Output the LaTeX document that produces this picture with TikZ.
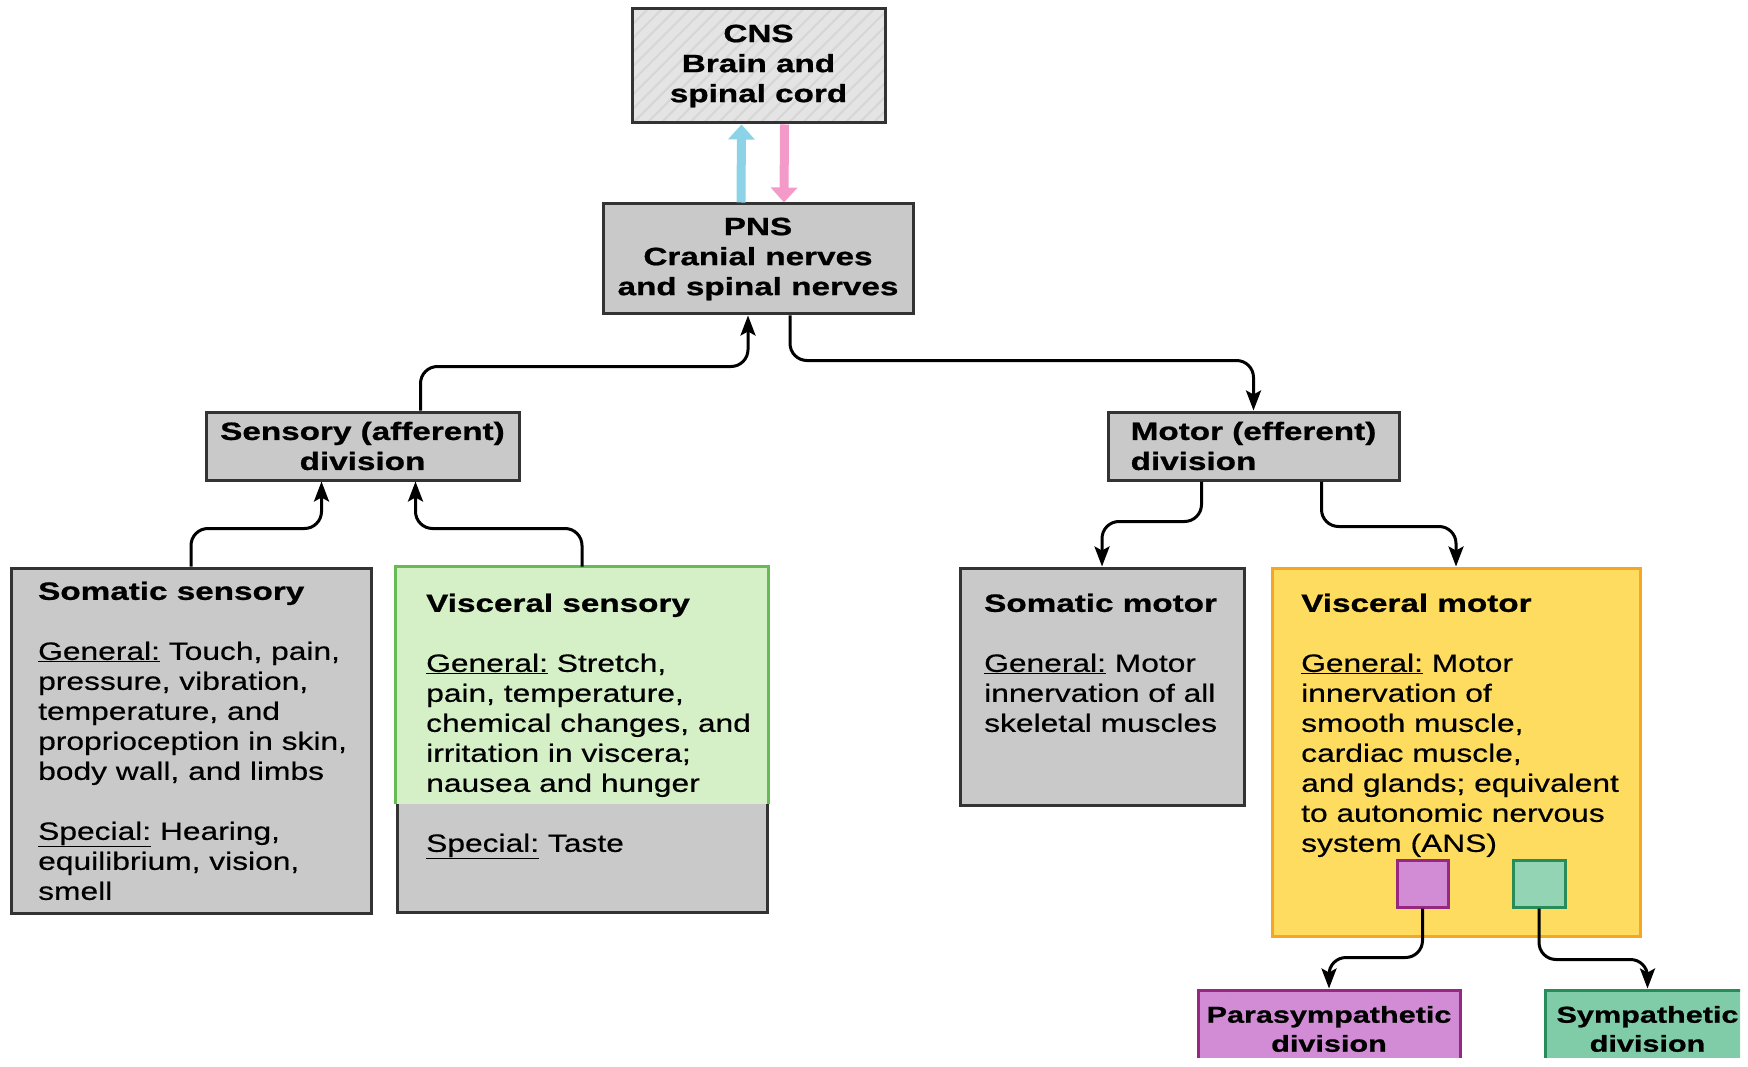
\documentclass[tikz,border=0pt]{standalone}
\usepackage{fontspec}
\setmainfont[FakeStretch=1.27, FakeBold=0.5, BoldFeatures={FakeStretch=1.33, FakeBold=0.9}]{Liberation Sans}
\usepackage{tikz}
\usetikzlibrary{positioning}
\usetikzlibrary{arrows.meta, patterns.meta}

\definecolor{boxgray}{RGB}{201,201,201}
\definecolor{boxline}{RGB}{51,51,51}
\definecolor{cnsgray}{RGB}{228,228,228}
\definecolor{cnshatch}{RGB}{214,214,214}
\definecolor{vsgreen}{RGB}{213,239,199}
\definecolor{vsline}{RGB}{102,187,85}
\definecolor{vmyellow}{RGB}{253,220,95}
\definecolor{vmline}{RGB}{245,166,35}
\definecolor{parafill}{RGB}{210,140,214}
\definecolor{paraline}{RGB}{150,40,130}
\definecolor{symfill}{RGB}{128,204,168}
\definecolor{symline}{RGB}{40,140,90}
\definecolor{afferent}{RGB}{141,211,232}
\definecolor{efferent}{RGB}{244,154,201}

\newcommand{\bodysize}{\fontsize{25}{30}\selectfont}
\newcommand{\anssize}{\fontsize{23}{29}\selectfont}

\begin{document}
\begin{tikzpicture}[x=1pt, y=-1pt,
		box/.style={draw=boxline, line width=3pt, fill=boxgray, inner sep=0pt},
		titlebox/.style={box, align=center, font=\bodysize\bfseries},
		bodytext/.style={anchor=north west, align=left, inner sep=0pt, font=\bodysize},
		conn/.style={draw=black, line width=3pt, rounded corners=17pt,
			-{Stealth[length=20pt, width=15pt, inset=4pt]}},
		upflow/.style={draw=afferent, line width=9pt, -{Triangle[length=15pt, width=26pt]}},
		downflow/.style={draw=efferent, line width=9pt, -{Triangle[length=15pt, width=26pt]}}
		]
		
		\useasboundingbox (0,0) rectangle (1748,1067);
		\clip (0,0) rectangle (1740,1057);
		
		% top
		\node[titlebox, fill=cnsgray, minimum width=253pt, minimum height=114pt,
			postaction={pattern={Lines[angle=45, distance=10pt, line width=2pt]}, pattern color=cnshatch},
			postaction={draw=boxline, line width=3pt}]
			(cns) at (758.5,66) {CNS\\Brain and\\spinal cord};
		\node[titlebox, minimum width=310pt, minimum height=110pt] (pns) at (758,259)
			{PNS\\Cranial nerves\\and spinal nerves};
		
		\draw[upflow] ([xshift=-17pt]pns.north) -- ([xshift=-17pt]cns.south);
		\draw[downflow] ([xshift=26pt]cns.south) -- ([xshift=26pt]pns.north);
		
		% divisions
		\node[titlebox, minimum width=313pt, minimum height=68pt] (sens) at (362.5,446)
			{Sensory (afferent)\\division};
		\node[titlebox, align=left, minimum width=291pt, minimum height=68pt] (motor) at (1253.5,446)
			{Motor (efferent)\\division};
		
		%sensory side
		\node[box, minimum width=360pt, minimum height=345pt] (somsens) at (191,740.5) {};
		\node[box, minimum width=370pt, minimum height=344pt] (vissens) at (582,740) {};
		\fill[vsgreen] (vissens.north west) rectangle ([yshift=110pt]vissens.south east);
		\draw[vsline, line width=3pt] ([yshift=110pt]vissens.south west) -- (vissens.north west)
			-- (vissens.north east) -- ([yshift=110pt]vissens.south east);
		
		\node[bodytext] (somsenstxt) at (38,581.5) {\textbf{Somatic sensory}\\[30pt]
			\underline{General:} Touch, pain,\\
			pressure, vibration,\\
			temperature, and\\
			proprioception in skin,\\
			body wall, and limbs\\[30pt]
			\underline{Special:} Hearing,\\
			equilibrium, vision,\\
			smell};
		\node[bodytext] (vissenstxt) at (426,593.5) {\textbf{Visceral sensory}\\[30pt]
			\underline{General:} Stretch,\\
			pain, temperature,\\
			chemical changes, and\\
			irritation in viscera;\\
			nausea and hunger\\[30pt]
			\underline{Special:} Taste};
		
		%motor side
		\node[box, minimum width=284pt, minimum height=237pt] (sommot) at (1102,686.5) {};
		\node[box, draw=vmline, fill=vmyellow, minimum width=368pt, minimum height=368pt] (vismot) at (1456,752) {};
		
		\node[bodytext] (sommottxt) at (984,593.5) {\textbf{Somatic motor}\\[30pt]
			\underline{General:} Motor\\
			innervation of all\\
			skeletal muscles};
		\node[bodytext] (vismottxt) at (1301,593.5) {\textbf{Visceral motor}\\[30pt]
			\underline{General:} Motor\\
			innervation of\\
			smooth muscle,\\
			cardiac muscle,\\
			and glands; equivalent\\
			to autonomic nervous\\
			system (ANS)};
		
		\node[box, draw=paraline, fill=parafill, minimum width=51pt, minimum height=47pt] (parasq) at (1422.5,883.5) {};
		\node[box, draw=symline, fill=symfill!85!white, minimum width=52pt, minimum height=47pt] (symsq) at (1539,883.5) {};
		
		% ANS divisions
		\node[titlebox, font=\anssize\bfseries, draw=paraline, fill=parafill, minimum width=262pt, minimum height=78pt] (para) at (1329,1029)
			{Parasympathetic\\division};
		\node[titlebox, font=\anssize\bfseries, draw=symline, fill=symfill, minimum width=205pt, minimum height=78pt] (symp) at (1647.5,1029)
			{Sympathetic\\division};
		
		%connectors
		\draw[conn] (somsens.north) -- ++(0,-38) -| ([xshift=-41pt]sens.south);
		\draw[conn] (vissens.north) -- ++(0,-38) -| ([xshift=53pt]sens.south);
		\draw[conn] ([xshift=58pt]sens.north) -- ++(0,-44) -| ([xshift=-10pt]pns.south);
		\draw[conn] ([xshift=32pt]pns.south) -- ++(0,45) -| (motor.north);
		\draw[conn] ([xshift=-52pt]motor.south) -- ++(0,40) -| (sommot.north);
		\draw[conn] ([xshift=68pt]motor.south) -- ++(0,45) -| (vismot.north);
		\draw[conn] (parasq.south) -- ++(0,49) -| (para.north);
		\draw[conn] (symsq.south) -- ++(0,51) -| (symp.north);
	\end{tikzpicture}
\end{document}
